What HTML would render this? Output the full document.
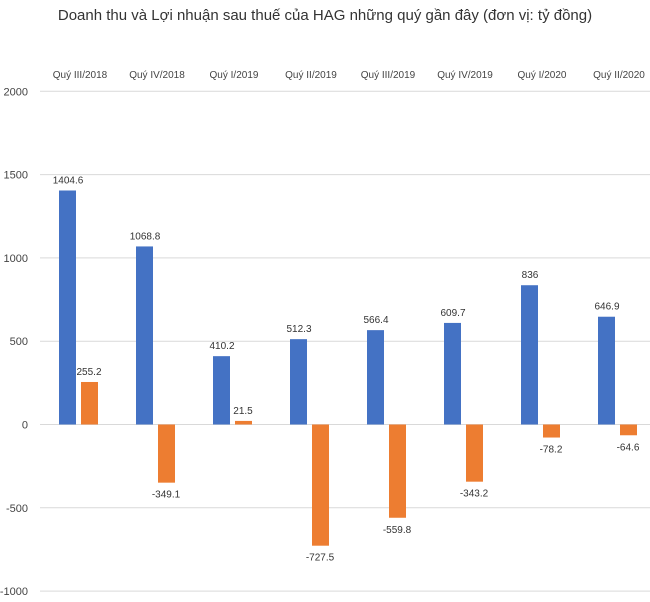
<!DOCTYPE html>
<html><head><meta charset="utf-8"><style>
body{margin:0;background:#fff;font-family:"Liberation Sans",sans-serif;}
svg text{font-family:"Liberation Sans",sans-serif;}
</style></head><body>
<svg width="650" height="597" id="c">
<text x="325" y="20" text-anchor="middle" font-size="15" fill="#333">Doanh thu và Lợi nhuận sau thuế của HAG những quý gần đây (đơn vị: tỷ đồng)</text>
</svg>
<script>
const categories=["Quý III/2018","Quý IV/2018","Quý I/2019","Quý II/2019","Quý III/2019","Quý IV/2019","Quý I/2020","Quý II/2020"];
const revenue=[1404.6,1068.8,410.2,512.3,566.4,609.7,836,646.9];
const profit=[255.2,-349.1,21.5,-727.5,-559.8,-343.2,-78.2,-64.6];
const yTicks=[2000,1500,1000,500,0,-500,-1000];
const svg=document.getElementById('c');const NS='http://www.w3.org/2000/svg';
const y=v=>424.5-v*83.3/500;
const x0=40,step=77;
const cx=i=>x0+39+step*i;
function mk(t,a){const e=document.createElementNS(NS,t);for(const k in a)e.setAttribute(k,a[k]);svg.appendChild(e);return e;}
yTicks.forEach(t=>{
 const l=mk('line',{x1:x0,x2:650,y1:y(t),y2:y(t),stroke:'#d9d9d9','stroke-width':1});
 
 
 const tx=mk('text',{x:28,y:y(t)+4,'text-anchor':'end','font-size':11,fill:'#444'});tx.textContent=t;
 
 
});
categories.forEach((c,i)=>{
 const t=mk('text',{x:cx(i)+1,y:78,'text-anchor':'middle','font-size':10,fill:'#444'});t.textContent=c;
 
 
 const r=revenue[i],p=profit[i];
 const b=mk('rect',{x:cx(i)-20,width:17,y:Math.min(y(r),y(0)),height:Math.abs(y(r)-y(0)),fill:'#4472c4'});
 
 
 const o=mk('rect',{x:cx(i)+2,width:17,y:Math.min(y(p),y(0)),height:Math.abs(y(p)-y(0)),fill:'#ed7d31'});
 
 
 const rl=mk('text',{x:cx(i)-11,y:y(r)-7,'text-anchor':'middle','font-size':10,fill:'#333'});rl.textContent=r;
 
 
 const pl=mk('text',{x:cx(i)+10,y:p>=0?y(p)-7:y(p)+15,'text-anchor':'middle','font-size':10,fill:'#333'});pl.textContent=p;
 
 
});
</script>
</body></html>
